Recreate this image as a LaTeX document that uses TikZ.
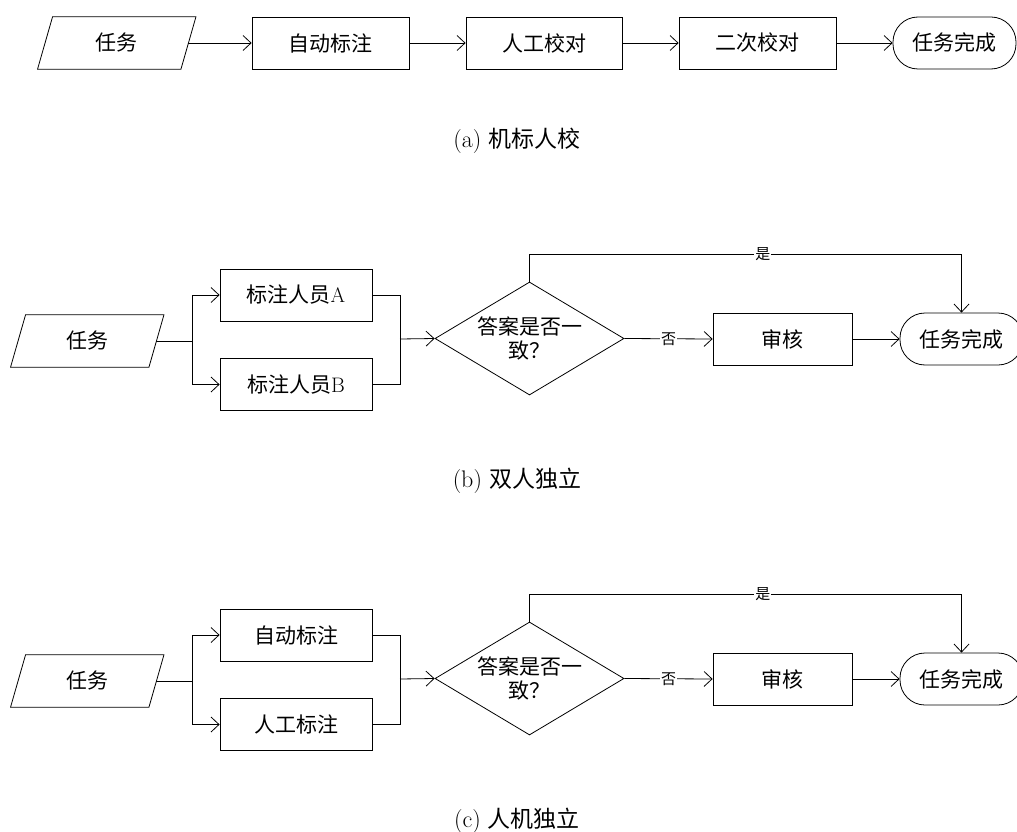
\documentclass[tikz,border=0pt]{standalone}
\usepackage{fontspec}
\newfontfamily\cjk{Noto Sans CJK SC}
\usetikzlibrary{arrows.meta,shapes.geometric,calc}
\newcommand\drawpara[1]{\draw[line width=0.8pt] ([xshift=7.5pt]#1.north west) -- ([xshift=7.5pt]#1.north east) -- ([xshift=-7.5pt]#1.south east) -- ([xshift=-7.5pt]#1.south west) -- cycle;}
\tikzset{
  nodefont/.style={font=\cjk\fontsize{21}{24}\selectfont},
  base/.style={draw, line width=0.8pt, inner sep=0pt, nodefont, align=center},
  procbox/.style={base, rectangle, minimum height=52pt},
  termbox/.style={base, rectangle, rounded corners=25pt, minimum width=123pt, minimum height=52pt},
  paranode/.style={inner sep=0pt, minimum height=52pt, nodefont},
  decision/.style={base, diamond, minimum width=189pt, minimum height=113pt, shape aspect=1.67},
  arr/.style={line width=0.8pt, -{Straight Barb[length=8pt,width=15pt]}},
  ln/.style={line width=0.8pt},
  lbl/.style={fill=white, inner sep=1pt, font=\cjk\fontsize{15}{17}\selectfont},
  captext/.style={font=\fontsize{24}{27}\selectfont}
}
\begin{document}
\begin{tikzpicture}[x=1pt,y=-1pt]
\useasboundingbox (0,0) rectangle (1017,832);
% ---------- (a)
\node[paranode, minimum width=143pt] (a1) at (116.75,43) {任务};
\drawpara{a1}
\node[procbox, minimum width=157pt] (a2) at (330.5,43) {自动标注};
\node[procbox, minimum width=156pt] (a3) at (544,43) {人工校对};
\node[procbox, minimum width=157pt] (a4) at (757.5,43) {二次校对};
\node[termbox] (a5) at (954.5,43) {任务完成};
\draw[arr] (a1.east) -- (a2.west);
\draw[arr] (a2.east) -- (a3.west);
\draw[arr] (a3.east) -- (a4.west);
\draw[arr] (a4.east) -- (a5.west);
\node[captext] (capa) at (517,141) {(a) {\cjk\fontsize{23}{26}\selectfont 机标人校}};
% ---------- (b)
\node[paranode, minimum width=138pt] (b1) at (87.25,341) {任务};
\drawpara{b1}
\coordinate (bj1) at (192,341);
\node[procbox, minimum width=152pt] (b2) at (296,295) {标注人员{\rmfamily A}};
\node[procbox, minimum width=152pt] (b3) at (296,384.5) {标注人员{\rmfamily B}};
\coordinate (bj2) at (400,339);
\node[decision] (b4) at (529.5,338.5) {答案是否一\\致？};
\node[procbox, minimum width=139pt] (b5) at (782.5,339) {审核};
\node[termbox] (b6) at (961.5,339) {任务完成};
\coordinate (bup) at (529.5,254);
\draw[ln] (b1.east) -- (bj1);
\draw[arr] (bj1) |- (b2.west);
\draw[arr] (bj1) |- (b3.west);
\draw[ln] (b2.east) -| (bj2);
\draw[ln] (b3.east) -| (bj2);
\draw[arr] (bj2) -- (b4.west);
\draw[arr] (b4.north) -- (bup) -- node[lbl, pos=0.54] {是} (bup -| b6.north) -- (b6.north);
\draw[arr] (b4.east) -- node[lbl] {否} (b5.west);
\draw[arr] (b5.east) -- (b6.west);
\node[captext] (capb) at (517,481) {(b) {\cjk\fontsize{23}{26}\selectfont 双人独立}};
% ---------- (c)
\node[paranode, minimum width=138pt] (c1) at (87.25,681) {任务};
\drawpara{c1}
\coordinate (cj1) at (192,681);
\node[procbox, minimum width=152pt] (c2) at (296,635) {自动标注};
\node[procbox, minimum width=152pt] (c3) at (296,724.5) {人工标注};
\coordinate (cj2) at (400,679);
\node[decision] (c4) at (529.5,678.5) {答案是否一\\致？};
\node[procbox, minimum width=139pt] (c5) at (782.5,679) {审核};
\node[termbox] (c6) at (961.5,679) {任务完成};
\coordinate (cup) at (529.5,594);
\draw[ln] (c1.east) -- (cj1);
\draw[arr] (cj1) |- (c2.west);
\draw[arr] (cj1) |- (c3.west);
\draw[ln] (c2.east) -| (cj2);
\draw[ln] (c3.east) -| (cj2);
\draw[arr] (cj2) -- (c4.west);
\draw[arr] (c4.north) -- (cup) -- node[lbl, pos=0.54] {是} (cup -| c6.north) -- (c6.north);
\draw[arr] (c4.east) -- node[lbl] {否} (c5.west);
\draw[arr] (c5.east) -- (c6.west);
\node[captext] (capc) at (517,821) {(c) {\cjk\fontsize{23}{26}\selectfont 人机独立}};
\end{tikzpicture}
\end{document}
